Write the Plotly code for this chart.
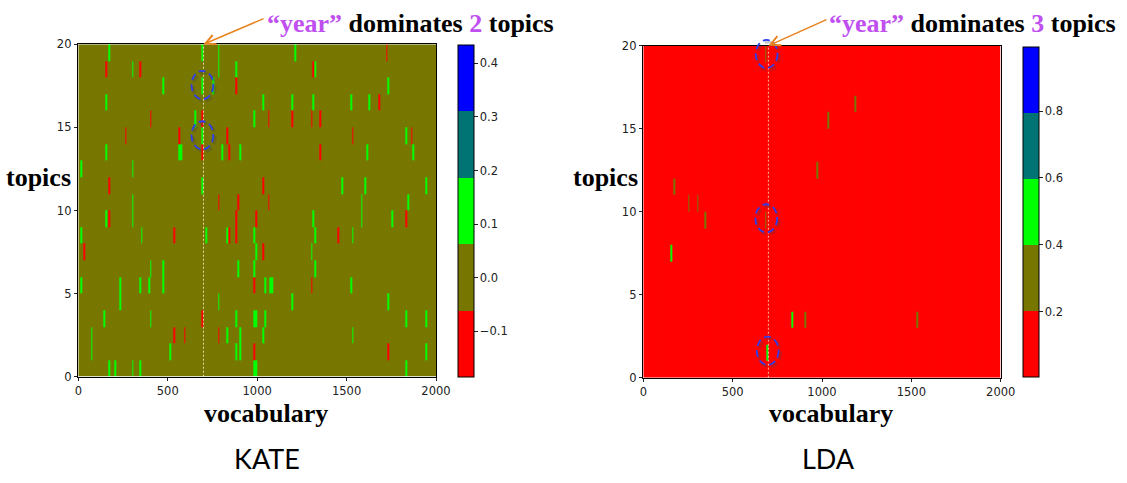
import numpy as np
import plotly.graph_objects as go

# ---------------- data ----------------
n_topics = 20
n_vocab = 2000
bin_size = 10
year_index = 700

kate_levels = ["#ff0000", "#767600", "#00ff00", "#007474", "#0000ff"]
kate_zmin, kate_zmax = -0.185, 0.434
kate_base = 0.0
kate_cbar_ticks = [-0.1, 0.0, 0.1, 0.2, 0.3, 0.4]

lda_zmin, lda_zmax = 0.005, 0.993
lda_base = 0.02
lda_cbar_ticks = [0.2, 0.4, 0.6, 0.8]

G, R = 0.12, -0.12
kate_topic = (
    [19] * 5 + [18] * 7 + [17] * 5 + [16] * 7 + [15] * 8 + [14] * 7 + [13] * 10 +
    [12] * 2 + [11] * 6 + [10] * 6 + [9] * 9 + [8] * 11 + [7] * 4 + [6] * 5 +
    [5] * 11 + [4] * 4 + [3] * 9 + [2] * 8 + [1] * 7 + [0] * 7
)
kate_word = [
    174, 690, 786, 1216, 1727,
    155, 302, 345, 786, 886, 1315, 1328,
    474, 690, 752, 886, 1730,
    155, 1030, 1199, 1317, 1528, 1623, 1689,
    403, 657, 690, 981, 1069, 1190, 1300, 1356,
    261, 565, 690, 838, 1531, 1830, 1869,
    155, 565, 572, 690, 804, 849, 905, 1356, 1619, 1871,
    15, 302,
    174, 690, 1032, 1474, 1602, 1940,
    308, 786, 897, 1069, 1586, 1840,
    155, 172, 308, 886, 998, 1315, 1582, 1756, 1830,
    15, 358, 535, 713, 836, 849, 886, 981, 1324, 1453, 1531,
    32, 998, 1032, 1308,
    403, 474, 899, 981, 1321,
    15, 233, 345, 390, 474, 981, 1043, 1078, 1084, 1300, 1522,
    233, 786, 1194, 1730,
    146, 403, 690, 886, 981, 998, 1043, 1830, 1940,
    71, 535, 591, 786, 836, 905, 1030, 1531,
    71, 513, 886, 905, 981, 1730, 1949,
    172, 202, 302, 345, 981, 994, 1830,
]
kate_value = [
    G, 0.14, G, G, R,
    R, G, R, G, G, R, G,
    G, 0.14, G, R, G,
    G, G, G, G, G, G, R,
    R, G, R, G, R, R, R, R,
    R, R, 0.14, R, R, G, R,
    G, G, G, R, G, R, G, R, G, G,
    G, G,
    R, G, R, G, G, G,
    G, R, R, R, G, G,
    G, R, G, R, R, G, G, G, R,
    G, G, R, G, G, R, R, G, G, R, G,
    R, G, R, G,
    G, G, G, G, G,
    G, G, G, G, G, R, G, G, G, R, G,
    G, G, G, G,
    G, G, R, G, G, G, G, G, G,
    G, R, R, R, G, G, G, G,
    G, G, G, G, R, R, G,
    G, G, G, G, G, G, G,
]

lda_topic = [19, 16, 15, 12, 11, 10, 10, 9, 9, 7, 3, 3, 3, 1]
lda_word = [688, 1187, 1030, 979, 173, 257, 302, 341, 688, 155, 834, 901, 1530, 690]
lda_value = [0.30, 0.28, 0.27, 0.26, 0.25, 0.27, 0.26, 0.25, 0.31, 0.45, 0.42, 0.26, 0.25, 0.42]

x_ticks = [0, 500, 1000, 1500, 2000]
y_ticks = [0, 5, 10, 15, 20]

kate_circles = [(694, 17.55), (694, 14.52)]
lda_circles = [(690, 19.5), (688, 9.6), (696, 1.62)]

# ---------------- build matrices ----------------
n_cols = n_vocab // bin_size
x_edges = np.arange(0, n_vocab + 1, bin_size)
y_edges = np.arange(0, n_topics + 1)


def build(base, topics, words, values):
    z = np.full((n_topics, n_cols), base, dtype=float)
    for t, w, v in zip(topics, words, values):
        z[t, min(w // bin_size, n_cols - 1)] = v
    return z


z_kate = build(kate_base, kate_topic, kate_word, kate_value)
z_lda = build(lda_base, lda_topic, lda_word, lda_value)


def step_scale(colors):
    cs = []
    n = len(colors)
    for i, c in enumerate(colors):
        cs.append([i / n, c])
        cs.append([(i + 1) / n, c])
    return cs


cscale = step_scale(kate_levels)

W, H = 1127, 483
tick_font = dict(family="DejaVu Sans", size=11.5, color="#222222")

# pixel layout
L_x0, L_x1, L_y0, L_y1 = 78.3, 436.0, 44.3, 376.7
R_x0, R_x1, R_y0, R_y1 = 643.3, 1000.7, 45.7, 377.7


def px(x):
    return x / W


def py(y):
    return 1 - y / H


fig = go.Figure()

fig.add_trace(go.Heatmap(
    z=z_kate, x=x_edges, y=y_edges, colorscale=cscale, xgap=0.01,
    zmin=kate_zmin, zmax=kate_zmax, xaxis="x", yaxis="y", hoverinfo="skip",
    colorbar=dict(
        x=px(458), xanchor="left", y=py((45 + 377) / 2), yanchor="middle",
        len=(377 - 45) / H, lenmode="fraction", thickness=16, thicknessmode="pixels",
        outlinewidth=1, outlinecolor="black", tickvals=kate_cbar_ticks,
        tickformat=".1f", ticks="outside", ticklen=3.5, tickwidth=1,
        tickcolor="#222", tickfont=tick_font, xpad=0, ypad=0,
    ),
))
fig.add_trace(go.Heatmap(
    z=z_lda, x=x_edges, y=y_edges, colorscale=cscale, xgap=0.01,
    zmin=lda_zmin, zmax=lda_zmax, xaxis="x2", yaxis="y2", hoverinfo="skip",
    colorbar=dict(
        x=px(1022.7), xanchor="left", y=py((46.7 + 376.7) / 2), yanchor="middle",
        len=(376.7 - 46.7) / H, lenmode="fraction", thickness=16, thicknessmode="pixels",
        outlinewidth=1, outlinecolor="black", tickvals=lda_cbar_ticks,
        tickformat=".1f", ticks="outside", ticklen=3.5, tickwidth=1,
        tickcolor="#222", tickfont=tick_font, xpad=0, ypad=0,
    ),
))

axis_common = dict(
    showgrid=False, zeroline=False, showline=True, linecolor="black", linewidth=1,
    mirror=True, ticks="outside", ticklen=3.5, tickwidth=1, tickcolor="#222",
    tickfont=tick_font, automargin=False,
)

fig.update_layout(
    width=W, height=H, margin=dict(l=0, r=0, t=0, b=0, pad=0, autoexpand=False),
    template="none",
    paper_bgcolor="white", plot_bgcolor="white", showlegend=False,
    xaxis=dict(domain=[px(L_x0), px(L_x1)], range=[0, n_vocab], tickvals=x_ticks,
               anchor="y", **axis_common),
    yaxis=dict(domain=[py(L_y1), py(L_y0)], range=[0, n_topics], tickvals=y_ticks,
               anchor="x", **axis_common),
    xaxis2=dict(domain=[px(R_x0), px(R_x1)], range=[0, n_vocab], tickvals=x_ticks,
                anchor="y2", **axis_common),
    yaxis2=dict(domain=[py(R_y1), py(R_y0)], range=[0, n_topics], tickvals=y_ticks,
                anchor="x2", **axis_common),
)

shapes = []
annotations = []

# dotted "year" line
for xr, yr in (("x", "y"), ("x2", "y2")):
    shapes.append(dict(type="line", xref=xr, yref=yr, x0=year_index, x1=year_index,
                       y0=0, y1=n_topics,
                       line=dict(color="rgba(255,240,200,0.8)", width=1, dash="2px,2px")))

# circles (domain refs so they are not clipped)
def circles(centers, xr, yr):
    out = []
    hw, hh = 61.0, 0.85
    for cx, cy in centers:
        for dx, dy, col, wdt in ((10, -0.12, "rgba(70,70,70,0.28)", 3.0),
                                  (0, 0, "#2f3df0", 1.8)):
            out.append(dict(
                type="circle", xref=xr + " domain", yref=yr + " domain",
                x0=(cx - hw + dx) / n_vocab, x1=(cx + hw + dx) / n_vocab,
                y0=(cy - hh + dy) / n_topics, y1=(cy + hh + dy) / n_topics,
                line=dict(color=col, width=wdt, dash="7px,4px"),
            ))
    return out


shapes += circles(kate_circles, "x", "y")
shapes += circles(lda_circles, "x2", "y2")

purple = "#c04ff0"
serif = "Liberation Serif"
for xr, yr, tail, count, cx in (("x", "y", (265, 18), 2, 410.8),
                                 ("x2", "y2", (828, 19), 3, 972.5)):
    tipx = L_x0 + (L_x1 - L_x0) * year_index / n_vocab if xr == "x" else \
        R_x0 + (R_x1 - R_x0) * year_index / n_vocab
    tipy = L_y0 if xr == "x" else R_y0
    annotations.append(dict(
        x=year_index, y=n_topics, xref=xr, yref=yr, text="", showarrow=True,
        ax=tail[0] - tipx, ay=tail[1] - tipy, arrowcolor="#e8821e", arrowwidth=1.5,
        arrowhead=5, arrowsize=1.3, standoff=0, startstandoff=0,
    ))
    annotations.append(dict(
        x=px(cx), y=py(24), xref="paper", yref="paper", showarrow=False,
        xanchor="center", yanchor="middle",
        text=f"<b><span style='color:{purple}'>“year”</span> dominates "
             f"<span style='color:{purple}'>{count}</span> topics</b>",
        font=dict(family=serif, size=26, color="black"),
    ))

for cx, cy in ((38.5, 177), (605, 177)):
    annotations.append(dict(x=px(cx), y=py(cy), xref="paper", yref="paper",
                            showarrow=False, text="<b>topics</b>",
                            font=dict(family=serif, size=26, color="black"),
                            xanchor="center", yanchor="middle"))
for cx in (266, 831.3):
    annotations.append(dict(x=px(cx), y=py(413), xref="paper", yref="paper",
                            showarrow=False, text="<b>vocabulary</b>",
                            font=dict(family=serif, size=26, color="black"),
                            xanchor="center", yanchor="middle"))
for cx, label in ((266.7, "KATE"), (828, "LDA")):
    annotations.append(dict(x=px(cx), y=py(458), xref="paper", yref="paper",
                            showarrow=False, text=label,
                            font=dict(family="Lato", size=27, color="black"),
                            xanchor="center", yanchor="middle"))

fig.update_layout(shapes=shapes, annotations=annotations)

fig.write_html("out.html", config={"displayModeBar": False},
               post_script="document.body.style.margin='0';"
                           "document.body.style.overflow='hidden';")
